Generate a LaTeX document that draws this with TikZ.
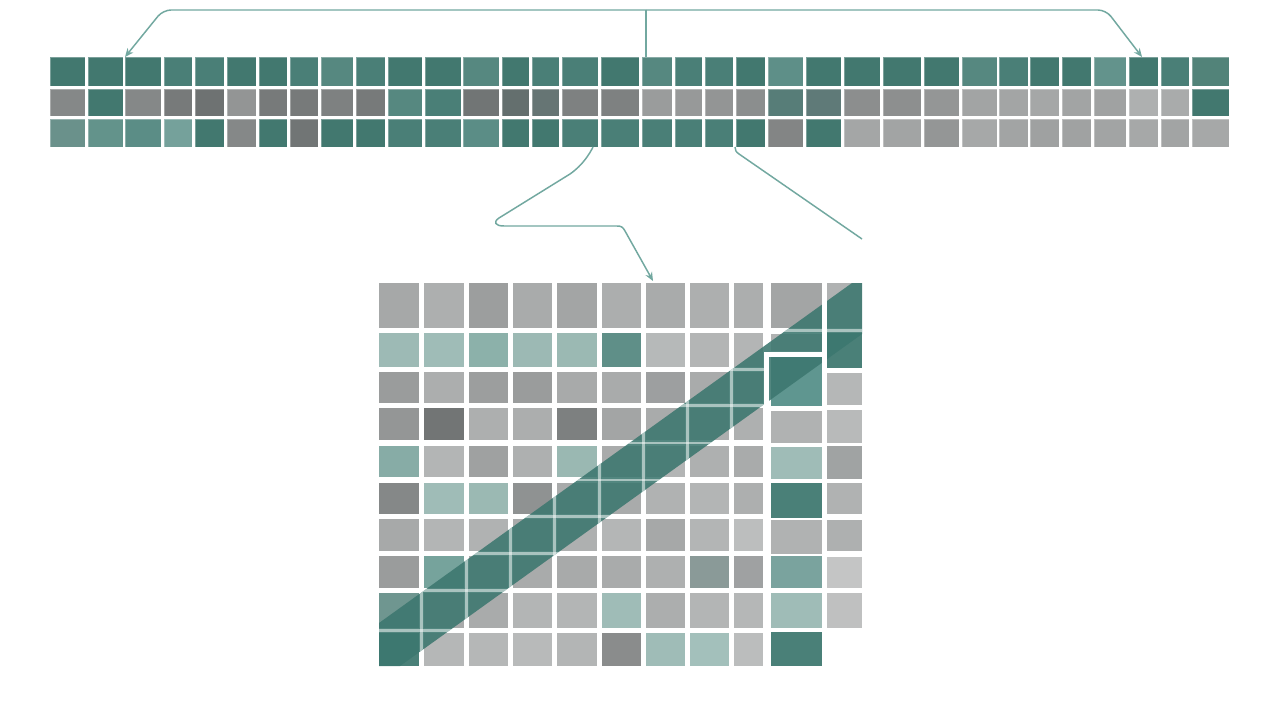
\documentclass[tikz,border=0pt]{standalone}
\usetikzlibrary{arrows.meta,calc}
\definecolor{connc}{HTML}{72A8A0}
\definecolor{bandc}{HTML}{3C776F}
\newcommand\gcell[5]{\edef\mytmp{\noexpand\definecolor{gtmp}{HTML}{#5}}\mytmp\fill[gtmp] (#1,#2) rectangle (#3,#4);}
\tikzset{
  tcell/.style={inner sep=0pt, outer sep=0pt, draw=white, draw opacity=0.3, line width=0.4pt},
  conn/.style={draw=connc, line width=1.1pt},
  arr/.style={-{Stealth[length=6.5pt,width=5.5pt]}}
}
\begin{document}
\begin{tikzpicture}[x=0.75pt,y=-0.75pt]
\fill[white] (0,0) rectangle (1280,720);
\useasboundingbox (0,0) rectangle (1280,720);

% ---------- top strip ----------
\foreach \a/\b/\ca/\cb/\cc [count=\i] in {
 50/85/42786F/858888/6A918B, 88/123/42786F/42786F/63938B, 125/161/42786F/858888/5B8D86,
 164/192/4A7F77/777A7A/75A19B, 195/224/4A7F77/6E7272/42786F, 227/256/42786F/939595/858888,
 259/287/42786F/777A7A/42786F, 290/318/4A7F77/777A7A/717575, 321/353/568880/7E8181/42786F,
 356/385/4A7F77/777A7A/42786F, 388/422/42786F/568880/4A7F77, 425/461/42786F/4A7F77/4A7F77,
 463/499/568880/717575/5B8D86, 502/529/42786F/646F6E/42786F, 532/559/4A7F77/667574/42786F,
 562/598/4A7F77/7E8181/4A7F77, 601/639/42786F/7E8181/4A7F77, 642/672/568880/9A9C9C/4A7F77,
 675/702/4A7F77/979999/4A7F77, 705/733/4A7F77/939595/4A7F77, 736/765/42786F/8B8E8E/42786F,
 768/803/5E8F88/577D78/838585, 806/841/42786F/5F7A78/42786F, 844/880/42786F/8C8E8E/A4A6A6,
 883/921/42786F/8D8F8F/A2A4A4, 924/959/42786F/949696/949696, 962/997/568880/A2A4A4/A6A8A8,
 999/1028/4A7F77/A3A5A5/A2A4A4, 1030/1059/42786F/A5A7A7/9FA1A1, 1062/1091/42786F/A2A4A4/A0A2A2,
 1094/1126/63938C/A0A2A2/A2A4A4, 1129/1158/42786F/AEB0B0/A6A8A8, 1161/1189/4A7F77/A9ABAB/A2A4A4,
 1192/1229/528379/42786F/A6A8A8}{
  \edef\mytmp{\noexpand\definecolor{ca}{HTML}{\ca}\noexpand\definecolor{cb}{HTML}{\cb}\noexpand\definecolor{cc}{HTML}{\cc}}\mytmp
  \node[tcell, fill=ca, minimum width={(\b-\a)*0.75pt}, minimum height={29*0.75pt}] (r1c\i) at ({(\a+\b)/2},71.5) {};
  \node[tcell, fill=cb, minimum width={(\b-\a)*0.75pt}, minimum height={27*0.75pt}] (r2c\i) at ({(\a+\b)/2},102.5) {};
  \node[tcell, fill=cc, minimum width={(\b-\a)*0.75pt}, minimum height={28*0.75pt}] (r3c\i) at ({(\a+\b)/2},133) {};
}

% ---------- bottom grid ----------
\foreach \a/\b/\h in {379/419/A6A8A8, 424/464/ADAFAF, 469/508/9C9E9E, 513/552/A9ABAB, 557/597/A3A5A5, 602/641/ACAEAE, 646/685/A9ABAB, 690/729/ADAFAF, 734/763/ACAEAE}{\gcell{\a}{283}{\b}{328}{\h}}
\foreach \a/\b/\h in {379/419/9DBAB5, 424/464/9FBCB7, 469/508/8CB1AA, 513/552/9CB9B4, 557/597/9BB9B3, 602/641/5F8F88, 646/685/B6B9B9, 690/729/B3B5B5, 734/763/B3B5B5}{\gcell{\a}{333}{\b}{367}{\h}}
\foreach \a/\b/\h in {379/419/9A9C9C, 424/464/ACAEAE, 469/508/9C9E9E, 513/552/9A9C9C, 557/597/A8AAAA, 602/641/A9ABAB, 646/685/9D9FA0, 690/729/A9ABAB, 734/763/AEB0B0}{\gcell{\a}{372}{\b}{403}{\h}}
\foreach \a/\b/\h in {379/419/949696, 424/464/727575, 469/508/ADAFAF, 513/552/ACAEAE, 557/597/7D8080, 602/641/A3A5A5, 646/685/A9ABAB, 690/729/ACAEAE, 734/763/AEB0B0}{\gcell{\a}{408}{\b}{440}{\h}}
\foreach \a/\b/\h in {379/419/87ACA6, 424/464/B3B5B5, 469/508/9FA1A1, 513/552/AEB0B0, 557/597/9AB8B2, 602/641/A9ABAB, 646/685/B3B5B5, 690/729/AEB0B0, 734/763/A9ABAB}{\gcell{\a}{446}{\b}{477}{\h}}
\foreach \a/\b/\h in {379/419/858888, 424/464/9FBCB7, 469/508/9BB9B3, 513/552/8F9292, 557/597/A9ABAB, 602/641/A9ABAB, 646/685/B0B2B2, 690/729/B3B5B5, 734/763/ADAFAF}{\gcell{\a}{483}{\b}{514}{\h}}
\foreach \a/\b/\h in {379/419/A7A9A9, 424/464/B3B5B5, 469/508/B0B2B2, 513/552/A9ABAB, 557/597/AEB0B0, 602/641/B4B6B6, 646/685/A6A8A8, 690/729/B3B5B5, 734/763/BCBEBE}{\gcell{\a}{519}{\b}{551}{\h}}
\foreach \a/\b/\h in {379/419/9A9C9C, 424/464/76A39C, 469/508/A9ABAB, 513/552/A9ABAB, 557/597/A8AAAA, 602/641/A9ABAB, 646/685/AEB0B0, 690/729/8A9A98, 734/763/9FA1A2}{\gcell{\a}{556}{\b}{588}{\h}}
\foreach \a/\b/\h in {379/419/6F9690, 424/464/A9ABAB, 469/508/A9ABAB, 513/552/B3B5B5, 557/597/B3B5B5, 602/641/9FBCB7, 646/685/ACAEAE, 690/729/B3B5B5, 734/763/B5B7B7}{\gcell{\a}{593}{\b}{628}{\h}}
\foreach \a/\b/\h in {379/419/4A8078, 424/464/B5B7B7, 469/508/B5B7B7, 513/552/B8BABA, 557/597/B3B5B5, 602/641/8A8C8C, 646/685/9FBCB7, 690/729/A3C0BB, 734/763/BBBDBD}{\gcell{\a}{633}{\b}{666}{\h}}
\foreach \y/\yy/\h in {283/328/A3A5A5, 334/351/B0B2B2, 357/406/5F9690, 410/443/B0B2B2, 447/479/9FBCB7, 483/518/4A8078, 520/554/B0B2B2, 556/588/7AA39E, 593/628/9FBCB7, 632/666/4A8078}{\gcell{771}{\y}{822}{\yy}{\h}}
\foreach \y/\yy/\h in {283/328/B0B2B2, 333/368/4A8078, 373/405/B5B7B7, 410/443/B8BABA, 446/479/A0A3A3, 483/514/B0B2B2, 520/551/AEB0B0, 557/588/C4C5C5, 593/628/BFC0C0}{\gcell{827}{\y}{862}{\yy}{\h}}

% ---------- diagonal band ----------
\fill[bandc, opacity=0.88] (379,623) -- (852,283) -- (862,283) -- (862,334) -- (400,666) -- (379,666) -- cycle;
\begin{scope}
  \clip (379,623) -- (852,283) -- (862,283) -- (862,334) -- (400,666) -- (379,666) -- cycle;
  \foreach \x in {421.5,466.5,510.5,554.5,599.5,643.5,687.5,731.5}
    \draw[white, opacity=0.5, line width=2.2pt] (\x,280) -- (\x,670);
  \foreach \y in {369.5,405.5,443,480,516.5,553.5,590.5,630.5}
    \draw[white, opacity=0.5, line width=2.2pt] (375,\y) -- (765,\y);
  \draw[white, opacity=0.5, line width=2.2pt] (375,330.5) -- (865,330.5);
\end{scope}
\draw[white, line width=3.75pt] (766.5,354) rectangle (824.5,408);
\draw[white, line width=3.75pt] (824.5,280) -- (824.5,354);

% ---------- connectors ----------
\coordinate (hub) at ($(r1c18.north west)+(4,0)$);
\coordinate (hubtop) at ($(hub)+(0,-47)$);
\draw[conn] (hub) -- (hubtop);
\draw[conn, arr, rounded corners=6] (hubtop) -- (163,10) -- (r1c3.north west);
\draw[conn, arr, rounded corners=6] (hubtop) -- (1106,10) -- ($(r1c32.north west)+(13,0)$);

\coordinate (s1) at ($(r3c16.south east)+(-5,0)$);
\coordinate (t1) at (653,281);
\draw[conn, arr] (s1) .. controls (590,153) and (583,165) .. (570,174) -- (499,218)
  .. controls (493,222) and (495,226) .. (504,226) -- (617,226)
  .. controls (621,226) and (623,227) .. (625,231) -- (t1);

\coordinate (s2) at ($(r3c21.south west)+(-1,0)$);
\coordinate (e2) at (862,239);
\draw[conn] (s2) .. controls (735,150) and (736,152) .. (739,154) -- (e2);
\end{tikzpicture}
\end{document}
